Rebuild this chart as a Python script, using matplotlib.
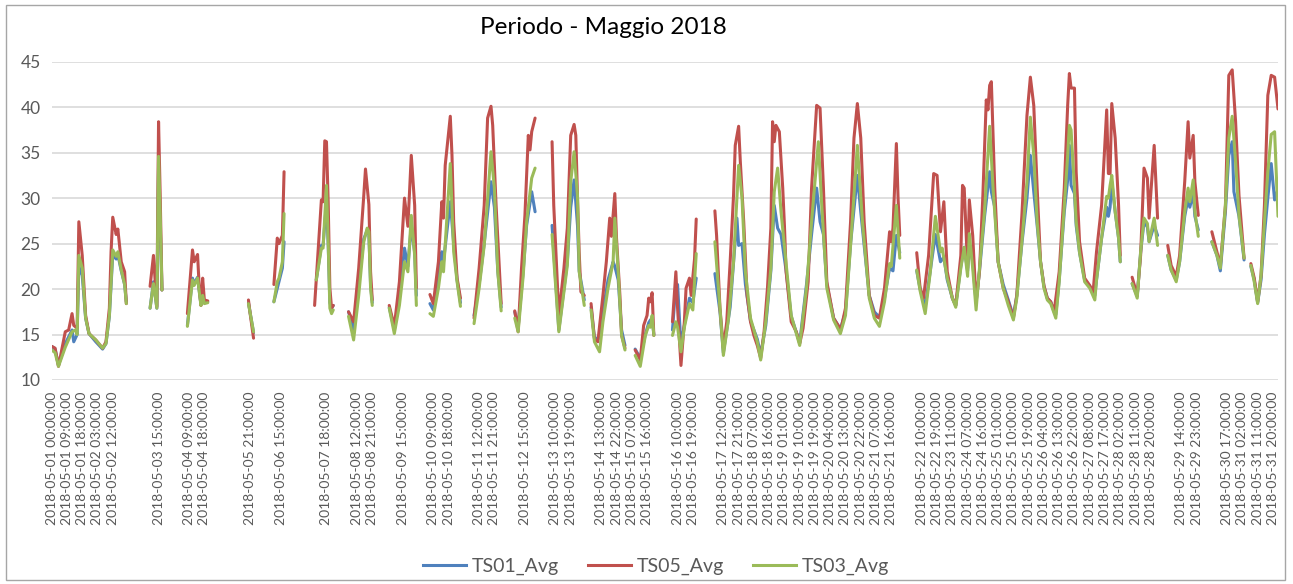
import numpy as np
import matplotlib
matplotlib.use("Agg")
import matplotlib.pyplot as plt
from matplotlib.lines import Line2D
from matplotlib.patches import Rectangle

plt.rcParams['font.family'] = ['Lato', 'DejaVu Sans']

# ---------------- data ----------------
title = "Periodo - Maggio 2018"
n_categories = 724          # hourly categories on the text axis
label_every = 9             # Excel shows every 9th category label
tick_labels = [
    "2018-05-01 00:00:00", "2018-05-01 09:00:00", "2018-05-01 18:00:00", "2018-05-02 03:00:00",
    "2018-05-02 12:00:00", "", "", "2018-05-03 15:00:00", "", "2018-05-04 09:00:00",
    "2018-05-04 18:00:00", "", "", "2018-05-05 21:00:00", "", "2018-05-06 15:00:00", "", "",
    "2018-05-07 18:00:00", "", "2018-05-08 12:00:00", "2018-05-08 21:00:00", "",
    "2018-05-09 15:00:00", "", "2018-05-10 09:00:00", "2018-05-10 18:00:00", "",
    "2018-05-11 12:00:00", "2018-05-11 21:00:00", "", "2018-05-12 15:00:00", "",
    "2018-05-13 10:00:00", "2018-05-13 19:00:00", "", "2018-05-14 13:00:00",
    "2018-05-14 22:00:00", "2018-05-15 07:00:00", "2018-05-15 16:00:00", "",
    "2018-05-16 10:00:00", "2018-05-16 19:00:00", "", "2018-05-17 12:00:00",
    "2018-05-17 21:00:00", "2018-05-18 07:00:00", "2018-05-18 16:00:00", "2018-05-19 01:00:00",
    "2018-05-19 10:00:00", "2018-05-19 19:00:00", "2018-05-20 04:00:00", "2018-05-20 13:00:00",
    "2018-05-20 22:00:00", "2018-05-21 07:00:00", "2018-05-21 16:00:00", "",
    "2018-05-22 10:00:00", "2018-05-22 19:00:00", "2018-05-23 11:00:00", "2018-05-24 07:00:00",
    "2018-05-24 16:00:00", "2018-05-25 01:00:00", "2018-05-25 10:00:00", "2018-05-25 19:00:00",
    "2018-05-26 04:00:00", "2018-05-26 13:00:00", "2018-05-26 22:00:00", "2018-05-27 08:00:00",
    "2018-05-27 17:00:00", "2018-05-28 02:00:00", "2018-05-28 11:00:00", "2018-05-28 20:00:00",
    "", "2018-05-29 14:00:00", "2018-05-29 23:00:00", "", "2018-05-30 17:00:00",
    "2018-05-31 02:00:00", "2018-05-31 11:00:00", "2018-05-31 20:00:00",
]

# categories without data (line breaks)
gaps = [50, 72, 100, 125, 145, 170, 195, 219, 245, 269, 290, 316, 341, 360, 385, 505,
        634, 655, 680, 705]

series_names = ["TS01_Avg", "TS05_Avg", "TS03_Avg"]
series_colors = ["#4F81BD", "#C0504D", "#9BBB59"]

# (category index, value)
ts05 = [
    (0, 13.7), (2, 13.5), (4, 11.5), (8, 15.3), (10, 15.5), (12, 17.3), (13, 16.0), (15, 15.7),
    (16, 27.4), (18, 23.7), (20, 17.1), (22, 15.1), (26, 14.4), (30, 13.5), (32, 14.2), (34, 17.9),
    (35, 24.1), (36, 27.9), (38, 26.0), (39, 26.6), (41, 23.0), (43, 21.9), (44, 18.4),
    (58, 20.3), (60, 23.7), (62, 18.1), (63, 38.4), (64, 30.0), (65, 19.9),
    (80, 17.3), (83, 24.3), (84, 23.0), (86, 23.8), (87, 20.1), (88, 18.2), (89, 21.2), (90, 18.8), (92, 18.7),
    (116, 18.8), (117, 17.3), (119, 14.6),
    (131, 20.5), (133, 25.6), (134, 25.0), (136, 25.9), (137, 32.9),
    (155, 18.2), (159, 29.8), (160, 29.6), (161, 36.3), (162, 36.2), (163, 29.6), (164, 20.1), (165, 17.9), (166, 18.2),
    (175, 17.5), (178, 16.4), (181, 22.3), (184, 30.3), (185, 33.2), (187, 29.3), (188, 21.9), (189, 18.8),
    (199, 18.2), (202, 15.9), (205, 20.8), (208, 30.0), (210, 26.9), (212, 34.7), (214, 29.2), (215, 20.1),
    (223, 19.4), (225, 18.4), (228, 23.0), (230, 29.6), (231, 27.8), (232, 33.6), (235, 39.0), (236, 34.7),
    (237, 27.4), (239, 21.2), (241, 19.0),
    (249, 16.8), (252, 22.3), (255, 29.2), (257, 38.8), (259, 40.1), (260, 38.0), (262, 29.2), (265, 18.4),
    (273, 17.6), (275, 15.3), (277, 22.3), (279, 28.1), (281, 36.9), (282, 35.3), (283, 37.3), (285, 38.8),
    (295, 36.2), (296, 29.2), (299, 17.1), (302, 22.3), (304, 26.7), (306, 36.9), (308, 38.1), (309, 36.9),
    (310, 30.0), (311, 24.0), (312, 19.7), (314, 19.3),
    (318, 18.4), (320, 14.5), (322, 14.2), (325, 19.3), (327, 23.0), (329, 27.8), (330, 25.8), (332, 30.5),
    (333, 25.6), (335, 19.3), (336, 14.9), (338, 13.5),
    (344, 13.3), (347, 12.2), (349, 16.0), (351, 17.1), (352, 19.0), (353, 18.6), (354, 19.6), (355, 14.9),
    (366, 16.4), (368, 21.9), (369, 17.9), (371, 11.6), (373, 16.4), (374, 20.1), (376, 21.2), (377, 19.3),
    (379, 23.3), (380, 27.7),
    (391, 28.6), (392, 25.9), (394, 17.9), (396, 13.5), (398, 16.4), (400, 23.0), (402, 30.3), (403, 35.8),
    (405, 37.9), (406, 34.0), (408, 27.4), (410, 19.3), (412, 16.4), (414, 14.9), (416, 13.8), (418, 12.4),
    (420, 15.3), (422, 20.1), (424, 26.7), (425, 38.4), (426, 36.2), (427, 38.0), (429, 37.3), (431, 31.1),
    (432, 27.0), (433, 21.9), (436, 16.4), (439, 15.3), (441, 14.0), (443, 15.7), (446, 20.8), (448, 31.1),
    (451, 40.2), (453, 39.9), (455, 31.1), (457, 20.8), (461, 16.8), (464, 15.9), (465, 15.3), (468, 17.9),
    (471, 27.4), (473, 36.6), (475, 40.4), (477, 36.6), (479, 27.4), (482, 19.3), (485, 17.1), (488, 16.8),
    (491, 20.1), (494, 26.3), (495, 25.2), (496, 26.7), (498, 36.0), (499, 30.0), (500, 25.9),
    (510, 24.0), (512, 20.1), (514, 19.0), (517, 23.7), (520, 32.7), (522, 32.5), (524, 26.3), (526, 29.6),
    (528, 21.9), (531, 19.0), (533, 18.2), (536, 23.7), (537, 31.4), (538, 31.1), (540, 22.3), (541, 29.8),
    (543, 25.9), (545, 18.6), (547, 21.9), (549, 30.3), (551, 40.8), (552, 39.7), (553, 42.4), (554, 42.8),
    (556, 31.1), (558, 23.0), (561, 20.1), (564, 18.6), (567, 16.8), (569, 19.3), (572, 28.1), (575, 39.1),
    (577, 43.3), (579, 40.2), (581, 31.1), (583, 23.0), (585, 20.4), (587, 19.0), (589, 18.6), (591, 17.5),
    (594, 21.9), (597, 31.1), (599, 40.2), (600, 43.7), (601, 42.1), (603, 42.1), (604, 32.9), (606, 25.2),
    (609, 21.2), (612, 20.4), (614, 19.7), (616, 24.1), (619, 29.2), (622, 39.7), (623, 32.7), (624, 32.7),
    (625, 40.4), (627, 36.6), (629, 29.2), (630, 23.7),
    (637, 21.3), (640, 19.3), (642, 23.7), (644, 33.3), (646, 32.2), (647, 27.8), (650, 35.8), (652, 27.8),
    (658, 24.8), (660, 22.6), (663, 21.4), (665, 23.7), (668, 31.8), (670, 38.4), (671, 34.4), (673, 36.9),
    (674, 31.8), (676, 28.1),
    (684, 26.3), (687, 24.1), (689, 22.6), (692, 29.2), (694, 43.5), (696, 44.1), (698, 38.4), (700, 30.3), (703, 23.4),
    (707, 22.8), (709, 21.2), (711, 18.6), (713, 21.5), (715, 29.2), (717, 41.3), (719, 43.5), (721, 43.3), (723, 39.8),
]

ts03 = [
    (0, 13.3), (2, 13.0), (4, 11.5), (8, 13.6), (12, 15.3), (14, 15.5), (15, 15.0), (16, 23.7), (18, 22.3),
    (20, 16.8), (22, 15.1), (26, 14.4), (30, 13.5), (32, 14.0), (34, 17.1), (36, 24.3), (38, 23.6), (39, 24.1),
    (41, 22.1), (43, 20.5), (44, 18.4),
    (58, 17.9), (60, 20.6), (62, 17.9), (63, 34.6), (64, 28.0), (65, 19.9),
    (80, 15.9), (83, 21.0), (84, 20.4), (86, 21.2), (88, 18.2), (89, 19.3), (90, 18.4), (92, 18.5),
    (116, 18.4), (119, 15.3),
    (131, 18.6), (133, 20.8), (134, 21.2), (136, 23.0), (137, 28.3),
    (156, 21.0), (159, 24.5), (160, 24.5), (162, 31.4), (163, 25.2), (164, 17.9), (165, 17.3), (166, 17.7),
    (175, 17.0), (178, 14.4), (181, 19.3), (184, 25.2), (186, 26.7), (187, 26.3), (188, 20.1), (189, 18.2),
    (199, 17.9), (202, 15.1), (205, 18.2), (208, 23.0), (210, 21.9), (212, 28.1), (214, 23.7), (215, 18.2),
    (223, 17.3), (225, 17.0), (228, 20.1), (230, 23.0), (231, 21.9), (235, 33.8), (237, 24.1), (239, 20.8), (241, 18.1),
    (249, 16.2), (252, 20.1), (255, 24.8), (259, 35.1), (261, 31.1), (263, 21.9), (265, 17.6),
    (273, 16.8), (275, 15.3), (278, 21.5), (280, 27.4), (283, 32.2), (285, 33.3),
    (295, 26.0), (299, 15.3), (304, 22.6), (306, 31.8), (308, 35.1), (310, 30.3), (311, 21.9), (314, 18.2),
    (318, 17.7), (320, 14.2), (323, 13.1), (325, 16.4), (328, 20.1), (331, 23.0), (332, 27.8), (334, 21.9),
    (336, 14.9), (338, 13.3),
    (344, 12.7), (347, 11.5), (350, 14.9), (352, 16.0), (353, 15.8), (354, 17.1), (355, 14.9),
    (366, 14.9), (368, 16.4), (369, 15.8), (371, 13.1), (373, 15.8), (376, 18.4), (378, 17.7), (380, 23.9),
    (391, 25.2), (394, 17.9), (396, 12.7), (399, 16.7), (402, 23.0), (405, 33.6), (407, 30.0), (409, 21.9),
    (412, 16.8), (416, 14.2), (418, 12.2), (421, 16.4), (424, 22.3), (426, 30.7), (428, 33.3), (430, 28.5),
    (433, 22.8), (436, 17.1), (441, 13.8), (445, 20.1), (448, 27.4), (452, 36.2), (454, 29.2), (457, 20.1),
    (461, 16.6), (465, 15.1), (468, 17.1), (471, 24.8), (475, 35.8), (478, 27.4), (482, 19.0), (485, 16.8),
    (488, 15.9), (491, 18.6), (494, 22.8), (495, 22.5), (498, 29.2), (500, 23.4),
    (510, 22.1), (512, 19.8), (515, 17.3), (518, 21.9), (521, 28.0), (524, 24.1), (525, 24.5), (528, 21.2),
    (531, 19.0), (533, 18.0), (536, 22.3), (538, 24.6), (540, 21.4), (541, 26.1), (543, 22.3), (545, 17.7),
    (547, 22.3), (550, 28.6), (553, 37.9), (555, 31.1), (558, 23.0), (561, 20.1), (564, 18.2), (567, 16.6),
    (569, 19.0), (572, 25.2), (575, 31.8), (577, 38.9), (579, 34.7), (581, 27.4), (583, 23.0), (585, 20.1),
    (587, 18.8), (589, 18.4), (592, 16.8), (594, 20.8), (597, 29.2), (599, 34.7), (600, 38.0), (601, 37.5),
    (603, 31.1), (604, 27.4), (606, 24.0), (609, 20.8), (612, 20.1), (615, 18.8), (616, 21.0), (619, 25.6),
    (622, 30.2), (623, 30.0), (624, 31.4), (625, 32.5), (627, 28.5), (629, 25.6), (630, 23.0),
    (637, 20.6), (640, 19.0), (642, 24.1), (644, 27.8), (646, 27.2), (647, 25.2), (650, 27.8), (652, 24.8),
    (658, 23.7), (660, 22.1), (663, 20.8), (665, 23.0), (668, 28.5), (670, 31.1), (671, 29.6), (673, 32.0),
    (674, 28.5), (676, 25.8),
    (684, 25.2), (687, 23.7), (689, 22.3), (692, 29.2), (694, 36.6), (696, 39.0), (698, 34.0), (700, 28.1), (703, 23.4),
    (707, 22.6), (709, 20.8), (711, 18.4), (713, 21.5), (715, 27.4), (717, 32.9), (719, 37.0), (721, 37.3), (723, 28.0),
]

ts01 = [
    (0, 13.7), (2, 13.4), (4, 11.6), (8, 14.0), (12, 15.5), (13, 14.2), (15, 15.0), (16, 22.5), (18, 21.5),
    (20, 16.8), (22, 15.1), (26, 14.2), (30, 13.4), (32, 14.0), (34, 17.0), (36, 23.8), (38, 23.3), (39, 23.8),
    (41, 22.0), (43, 20.5), (44, 18.6),
    (58, 17.9), (60, 20.8), (62, 17.9), (63, 33.5), (64, 27.0), (65, 19.9),
    (80, 16.0), (83, 21.2), (84, 20.6), (86, 21.3), (88, 18.3), (89, 19.4), (90, 18.5), (92, 18.6),
    (116, 18.5), (119, 15.2),
    (131, 18.6), (134, 20.8), (136, 22.3), (137, 25.2),
    (156, 21.0), (159, 24.8), (160, 24.8), (162, 29.6), (163, 25.0), (164, 18.5), (165, 17.9), (166, 18.2),
    (175, 17.5), (178, 15.5), (181, 20.5), (184, 25.5), (186, 26.5), (187, 26.0), (188, 20.5), (189, 18.5),
    (199, 18.0), (202, 15.5), (205, 19.0), (208, 24.5), (210, 22.5), (212, 27.0), (214, 24.0), (215, 19.3),
    (223, 18.4), (225, 17.7), (228, 21.0), (230, 24.1), (231, 23.0), (235, 29.6), (237, 25.0), (239, 21.0), (241, 18.5),
    (249, 17.1), (252, 20.5), (255, 25.0), (259, 31.8), (261, 29.0), (263, 22.0), (265, 18.0),
    (273, 17.5), (275, 15.8), (278, 22.0), (280, 27.0), (283, 30.7), (285, 28.5),
    (295, 27.0), (299, 15.5), (304, 23.0), (306, 29.0), (308, 32.0), (310, 27.0), (311, 22.0), (314, 18.8),
    (318, 18.0), (320, 14.6), (323, 14.6), (325, 17.5), (328, 21.0), (331, 23.0), (332, 22.5), (334, 21.0),
    (336, 15.5), (338, 13.8),
    (344, 13.4), (347, 12.4), (350, 15.0), (352, 16.3), (353, 16.6), (354, 16.8), (355, 15.0),
    (366, 15.5), (368, 20.5), (369, 20.5), (371, 13.8), (373, 16.0), (376, 19.0), (378, 18.5), (380, 21.2),
    (391, 21.7), (394, 17.5), (396, 13.0), (400, 18.0), (404, 27.8), (405, 24.8), (407, 25.0), (409, 20.5),
    (412, 16.5), (416, 14.5), (418, 12.8), (421, 16.0), (424, 22.0), (426, 29.2), (428, 26.7), (430, 26.0),
    (433, 22.0), (436, 17.0), (441, 14.1), (445, 20.5), (448, 26.0), (451, 31.1), (453, 27.4), (455, 26.0),
    (457, 20.5), (461, 16.8), (465, 15.6), (468, 17.5), (471, 25.0), (475, 32.5), (477, 28.5), (482, 19.3),
    (485, 17.5), (488, 16.9), (491, 19.0), (494, 22.3), (496, 22.0), (498, 25.9), (500, 24.0),
    (510, 22.0), (512, 20.0), (515, 18.0), (518, 22.0), (521, 26.0), (524, 23.0), (526, 23.5), (528, 21.0),
    (531, 19.0), (533, 18.2), (536, 22.5), (538, 24.6), (540, 22.0), (541, 25.0), (543, 23.0), (545, 18.5),
    (547, 22.0), (550, 28.0), (553, 32.9), (554, 30.7), (556, 29.0), (558, 23.0), (561, 20.5), (564, 18.8),
    (567, 17.0), (569, 19.3), (572, 25.0), (575, 30.0), (577, 34.7), (579, 30.7), (581, 27.0), (583, 23.0),
    (585, 20.3), (587, 19.0), (589, 18.6), (592, 17.2), (594, 21.0), (597, 28.5), (599, 32.0), (600, 35.8),
    (601, 31.4), (603, 30.5), (604, 27.0), (606, 24.0), (609, 21.0), (612, 20.3), (615, 19.3), (616, 21.0),
    (619, 25.6), (622, 29.0), (623, 28.0), (624, 29.0), (625, 31.8), (627, 28.5), (629, 25.6), (630, 23.0),
    (637, 20.6), (640, 19.2), (642, 24.0), (644, 27.4), (646, 26.8), (647, 25.2), (650, 27.0), (652, 25.9),
    (658, 23.7), (660, 22.1), (663, 21.0), (665, 23.0), (668, 28.0), (670, 30.0), (671, 29.0), (673, 30.5),
    (674, 28.0), (676, 26.5),
    (684, 25.2), (687, 23.7), (689, 22.0), (692, 28.5), (694, 34.7), (696, 36.2), (697, 30.7), (700, 28.0), (703, 23.2),
    (707, 22.5), (709, 21.0), (711, 18.5), (713, 21.0), (715, 26.0), (717, 30.0), (719, 33.8), (721, 29.8), (723, 31.0),
]

# ---------------- figure ----------------
W, H = 1293, 584
fig = plt.figure(figsize=(W / 100, H / 100), dpi=100)
fig.patch.set_facecolor("white")

ax = fig.add_axes([51.7 / W, 1 - 380 / H, (1278 - 51.7) / W, (380 - 61.7) / H])


def with_gaps(points):
    pts = sorted(list(points) + [(g, np.nan) for g in gaps])
    return [p[0] for p in pts], [p[1] for p in pts]


for data, name, col in zip([ts01, ts05, ts03], series_names, series_colors):
    xs, ys = with_gaps(data)
    ax.plot(xs, ys, color=col, lw=2.2, solid_joinstyle="round", solid_capstyle="round", label=name)

ax.set_xlim(0, n_categories - 1)
ax.set_ylim(10, 45)
ax.set_yticks(range(10, 50, 5))
ax.set_xticks(range(0, n_categories, label_every))
ax.set_xticklabels(tick_labels)
ax.yaxis.grid(True, color="#D9D9D9", lw=1.2)
ax.set_axisbelow(True)
for s in ax.spines.values():
    s.set_visible(False)
ax.tick_params(axis="x", length=0, pad=8.5, labelsize=10, labelcolor="#595959", labelrotation=90)
ax.tick_params(axis="y", length=0, pad=8, labelsize=12.5, labelcolor="#595959")

fig.text(603 / W, 1 - 27 / H, title, ha="center", va="center", fontsize=17.5, color="black")

handles = [Line2D([], [], color=c, lw=2.2) for c in series_colors]
fig.legend(handles, series_names, loc="center", bbox_to_anchor=(656 / W, 1 - 566 / H), ncol=3,
           frameon=False, fontsize=14, handlelength=2.2, handletextpad=0.3, columnspacing=1.5,
           labelcolor="#595959")

fig.patches.append(Rectangle((6 / W, 1 - 580 / H), (1285 - 6) / W, (580 - 5) / H,
                             transform=fig.transFigure, fill=False, edgecolor="#A6A6A6", lw=1.0))

fig.savefig("out.png", dpi=100)
